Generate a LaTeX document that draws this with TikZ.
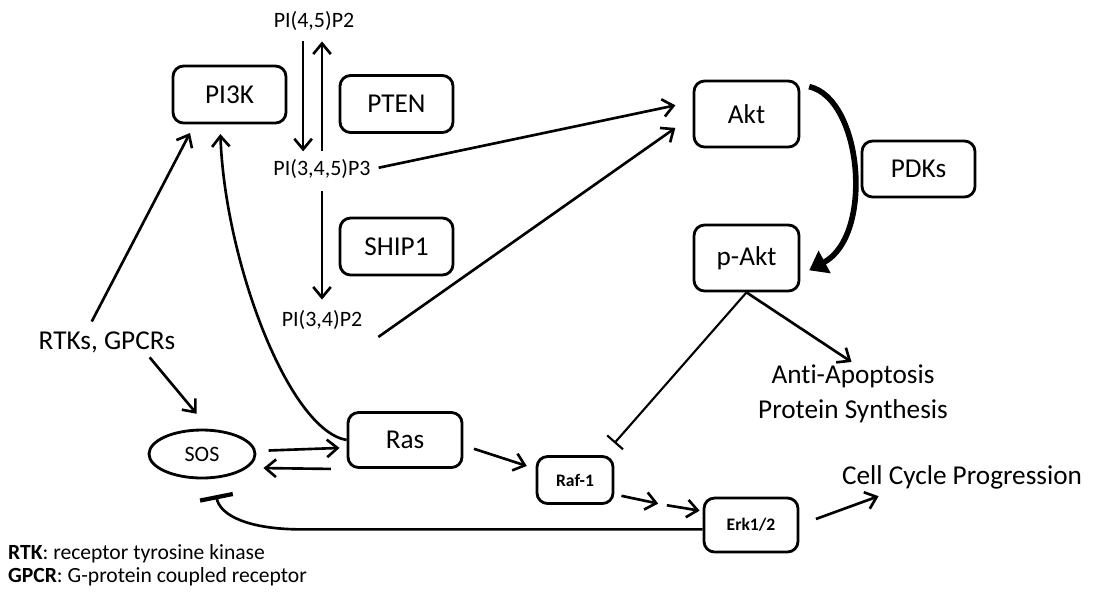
\documentclass[tikz,border=0pt]{standalone}
\usepackage{fontspec}
\setmainfont{Carlito}[Ligatures=NoCommon]
\usetikzlibrary{arrows.meta,shapes.geometric}

\newcommand{\bigtxt}{\fontsize{15.5}{19.8}\selectfont}
\newcommand{\smalltxt}{\fontsize{12.5}{15}\selectfont}
\newcommand{\tinytxt}{\fontsize{10}{12}\selectfont}
\newcommand{\keytxt}{\fontsize{12.3}{14}\selectfont}

\begin{document}
\begin{tikzpicture}[x=0.02cm, y=-0.02cm,
	>={Straight Barb[length=6pt,width=10pt]},
	box/.style={draw, rounded corners=6pt, line width=1.6pt,
			minimum width=2.26cm, minimum height=1.14cm, font=\bigtxt},
	lipid/.style={inner sep=1pt, font=\smalltxt},
	txt/.style={inner sep=1pt, font=\bigtxt},
	conn/.style={->, line width=1.5pt}]
	\useasboundingbox (0,0) rectangle (1094,593);

	% boxes
	\node[box] (pik) at (229.5,94.5) {PI3K};
	\node[box] (pten) at (396.5,104) {PTEN};
	\node[box] (ship) at (396.5,246.5) {SHIP1};
	\node[box, minimum width=2.1cm, minimum height=1.32cm] (akt) at (746.5,114) {Akt};
	\node[box, minimum width=2.1cm, minimum height=1.32cm] (pakt) at (746.5,258) {p-Akt};
	\node[box, minimum height=1.12cm] (pdk) at (918.5,169) {PDKs};
	\node[box, minimum width=2.28cm, minimum height=1.1cm] (ras) at (405,440) {Ras};
	\node[box, minimum width=1.52cm, minimum height=0.94cm,
		font=\tinytxt\bfseries] (raf) at (575,480) {Raf-1};
	\node[box, minimum width=1.88cm, minimum height=1.08cm,
		font=\tinytxt\bfseries] (erk) at (751,525) {Erk1/2};
	\node[draw, ellipse, line width=1.6pt, minimum width=2.12cm,
		minimum height=0.96cm, font=\smalltxt] (sos) at (202,454) {SOS};

	% plain labels
	\node[lipid] (pip2) at (314,21) {PI(4,5)P2};
	\node[lipid] (pip3) at (322,169) {PI(3,4,5)P3};
	\node[lipid] (pi34) at (322,320) {PI(3,4)P2};
	\node[txt] (rtk) at (107,342) {RTKs, GPCRs};
	\node[txt, align=center] (anti) at (853,394)
	{Ant\kern0pt i-Apoptosis\\Protein Synthesis};
	\node[txt] (cell) at (962,477) {Cell Cycle Progression};
	\node[inner sep=1pt, font=\keytxt, anchor=west] (keyrtk) at (6,554)
	{\textbf{RTK}: receptor tyrosine kinase};
	\node[inner sep=1pt, font=\keytxt, anchor=west] (keygpcr) at (6,576.5)
	{\textbf{GPCR}: G-protein coupled receptor};

	% lipid conversions
	\draw[conn, shorten <=5pt, shorten >=3.4pt] ([xshift=-6.2pt]pip2.south)
	-- ([xshift=-6.2pt]pip2.south |- pip3.north);
	\draw[conn, shorten <=3.4pt, shorten >=5pt] (pip3.north)
	-- (pip3.north |- pip2.south);
	\draw[conn, shorten <=6pt, shorten >=5pt] (pip3.south) -- (pi34.north);

	\draw[conn, shorten <=3.5pt, shorten >=10pt] (pip3.east) -- ([yshift=7pt]akt.west);
	\draw[conn, shorten >=12pt] ([shift={(8pt,-3pt)}]pi34.south east)
	-- ([yshift=-1pt]akt.west);

	% receptors
	\draw[conn, shorten <=5pt, shorten >=5.5pt] ([xshift=-11pt]rtk.north)
	-- ([xshift=13pt]pik.south west);
	\draw[conn, shorten <=2pt, shorten >=11pt] ([xshift=23pt]rtk.south)
	-- ([xshift=4pt]sos.north);

	\draw[conn, shorten >=5.5pt] (ras.west) .. controls +(-58,-10) and +(5,137)
	.. ([xshift=-5.4pt]pik.south);

	\draw[conn] ([shift={(7pt,2pt)}]sos.east) -- ([shift={(-4pt,-4.5pt)}]ras.west);
	\draw[conn] ([xshift=-9pt]ras.south west) -- ([shift={(4pt,-8pt)}]sos.east);

	\draw[line width=1.5pt, -{Bar[width=19pt,line width=2.4pt]}]
	([yshift=-2.5pt]erk.west) -- ++(-400,0) .. controls +(-55,0) and +(4,20)
	.. ([shift={(8pt,-9pt)}]sos.south);

	% MAPK cascade
	\coordinate (rafmid) at (662.5,504.5);
	\draw[conn] ([shift={(6pt,-5pt)}]ras.east) -- ([shift={(-5pt,8pt)}]raf.west);
	\draw[conn, shorten >=2.5pt] ([shift={(4pt,-9pt)}]raf.east) -- (rafmid);
	\draw[conn, shorten <=2.5pt] (rafmid) -- ([shift={(-1.7pt,-8pt)}]erk.north west);
	\draw[conn, shorten <=10pt] (erk.east) -- ([shift={(22pt,-3pt)}]cell.south west);

	% Akt
	\draw[line width=3.2pt, -{Triangle[length=10pt,width=14pt]}]
	([shift={(5pt,-4pt)}]akt.north east) .. controls +(53,12) and +(65,-35)
	.. ([shift={(5pt,-7pt)}]pakt.east);
	\draw[conn, shorten >=1pt] (pakt.south) -- (anti.north);
	\draw[line width=1.2pt, -{Bar[width=12pt,line width=1.2pt]}]
	(pakt.south) -- ([yshift=6.8pt]raf.north east);
\end{tikzpicture}
\end{document}
